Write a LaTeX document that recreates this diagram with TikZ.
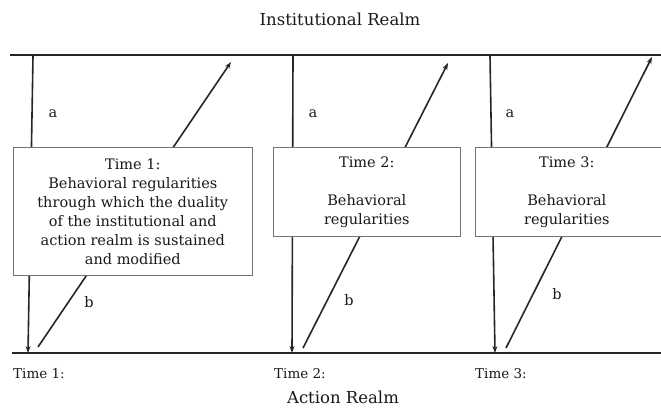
\documentclass[tikz,border=0pt]{standalone}
\usepackage{fontspec}
\setmainfont{DejaVu Serif}
\usetikzlibrary{arrows.meta}
\begin{document}
\begin{tikzpicture}[x=1pt,y=-1pt,
  realm/.style={line width=1.6pt,draw=black!85},
  flow/.style={line width=1.6pt,draw=black!85,-{Stealth[length=7pt,width=5pt]}},
  regbox/.style={draw=black!55,line width=0.6pt,fill=white,anchor=north west,
    inner sep=0pt,align=center,font=\fontsize{14.5}{19}\selectfont,text=black!90},
  lab/.style={font=\fontsize{14.5}{19}\selectfont,text=black!90,inner sep=0pt},
  timelab/.style={font=\fontsize{13.5}{17}\selectfont,text=black!90,inner sep=0pt,anchor=west},
  realmlab/.style={font=\fontsize{16.5}{20}\selectfont,text=black!90,inner sep=0pt}]
\useasboundingbox (0,0) rectangle (661,407);
\clip (0,0) rectangle (661,407);

% institutional (top) and action (bottom) realms
\coordinate (instL) at (10,55);  \coordinate (instR) at (661,55);
\coordinate (actL)  at (12,353); \coordinate (actR)  at (661,353);
\draw[realm] (instL) -- (instR);
\draw[realm] (actL) -- (actR);

% end points of the a (downward) and b (upward) influences
\coordinate (a1s) at (33,56);  \coordinate (a1e) at (28,353);
\coordinate (a2s) at (293,56); \coordinate (a2e) at (292,353);
\coordinate (a3s) at (490,56); \coordinate (a3e) at (495,353);
\coordinate (b1s) at (38,347);  \coordinate (b1e) at (231,62);
\coordinate (b2s) at (303,348); \coordinate (b2e) at (448,63);
\coordinate (b3s) at (506,348); \coordinate (b3e) at (652,57);

\draw[flow] (a1s) -- (a1e);
\draw[flow] (a2s) -- (a2e);
\draw[flow] (a3s) -- (a3e);
\draw[flow] (b1s) -- (b1e);
\draw[flow] (b2s) -- (b2e);
\draw[flow] (b3s) -- (b3e);

% behavioral regularities at each time
\node[regbox,minimum width=239pt,minimum height=128pt] (box1) at (13,147)
  {Time 1:\\Behavioral regularities\\through which the duality\\of the institutional and\\action realm is sustained\\and modified};
\node[regbox,minimum width=187pt,minimum height=89pt] (box2) at (273,147)
  {Time 2:\\[19pt]Behavioral\\regularities};
\node[regbox,minimum width=230pt,minimum height=89pt] (box3) at (475,147)
  {\hspace*{-47pt}Time 3:\\[19pt]\hspace*{-47pt}Behavioral\\\hspace*{-47pt}regularities};

% labels
\node[lab] (la1) at (53,114) {a};
\node[lab] (la2) at (313,114) {a};
\node[lab] (la3) at (510,114) {a};
\node[lab] (lb1) at (89,302) {b};
\node[lab] (lb2) at (349,300) {b};
\node[lab] (lb3) at (557,294) {b};

\node[timelab] (t1) at (13,374) {Time 1:};
\node[timelab] (t2) at (274,374) {Time 2:};
\node[timelab] (t3) at (475,374) {Time 3:};

\node[realmlab] (inst) at (340,19) {Institutional Realm};
\node[realmlab] (act) at (343,397) {Action Realm};
\end{tikzpicture}
\end{document}
